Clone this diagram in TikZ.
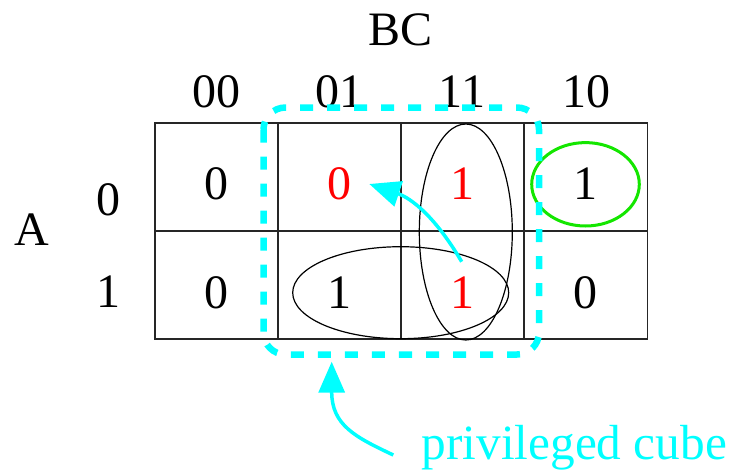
\documentclass[tikz,border=0pt]{standalone}
\usepackage{fontspec}
\setmainfont{Liberation Serif}
\usetikzlibrary{arrows.meta}
\definecolor{cyanc}{RGB}{0,255,255}
\definecolor{greenc}{RGB}{20,230,0}
\definecolor{redc}{RGB}{255,0,0}
\tikzset{
  lbl/.style={inner sep=0pt, font=\fontsize{48}{56}\selectfont},
  cellval/.style={lbl},
  gridline/.style={draw=black!85, line width=1.5pt},
  loope/.style={draw=black, line width=1.2pt},
  cubebox/.style={draw=cyanc, line width=6.5pt, dash pattern=on 13pt off 14pt, rounded corners=22pt},
  cyarrow/.style={draw=cyanc, line width=3.5pt, -{Triangle[length=31pt,width=26pt]}},
}
\begin{document}
\begin{tikzpicture}[x=1pt,y=-1pt]
\useasboundingbox (0,0) rectangle (730,471);
% grid
\draw[gridline] (155,123) rectangle (647.5,339);
\draw[gridline] (155,231) -- (647.5,231);
\draw[gridline] (278,123) -- (278,339);
\draw[gridline] (401,123) -- (401,339);
\draw[gridline] (524,123) -- (524,339);
% labels
\node[lbl] (bc) at (400.5,30) {BC};
\node[lbl] (c00) at (216,91.5) {00};
\node[lbl] (c01) at (339,91.5) {01};
\node[lbl] (c11) at (462,91.5) {11};
\node[lbl] (c10) at (586,91.5) {10};
\node[lbl] (a) at (31.5,230) {A};
\node[lbl] (r0) at (108,199.5) {0};
\node[lbl] (r1) at (108,291.5) {1};
% cell values
\node[cellval] (v00) at (216,184) {0};
\node[cellval, text=redc] (v01) at (339,184) {0};
\node[cellval, text=redc] (v03) at (462,184) {1};
\node[cellval] (v02) at (585,184) {1};
\node[cellval] (v10) at (216,292.5) {0};
\node[cellval] (v11) at (339,292.5) {1};
\node[cellval, text=redc] (v13) at (462,292.5) {1};
\node[cellval] (v12) at (585,292.5) {0};
% loops
\draw[loope] (465.8,232) ellipse [x radius=46.5pt, y radius=108pt];
\draw[loope] (400.7,292.7) ellipse [x radius=108pt, y radius=46pt];
\draw[draw=greenc, line width=3pt] (585.5,184.3) ellipse [x radius=53.8pt, y radius=41.7pt];
% privileged cube
\draw[cubebox] (263.5,107.5) rectangle (539,354.5);
% arrows
\coordinate (s1) at (461.7,261.7);
\coordinate (t1) at (369.3,184);
\draw[cyarrow] (s1) .. controls (430,208) and (405,196) .. (t1);
\node[lbl, text=cyanc, anchor=base west, font=\fontsize{49.3}{56}\selectfont] (pc) at (421.5,459.5) {privileged cube};
\coordinate (s2) at (393.3,455);
\coordinate (t2) at (331.7,361.7);
\draw[cyarrow] (s2) .. controls (355,437) and (331.7,425) .. (t2);
\end{tikzpicture}
\end{document}
